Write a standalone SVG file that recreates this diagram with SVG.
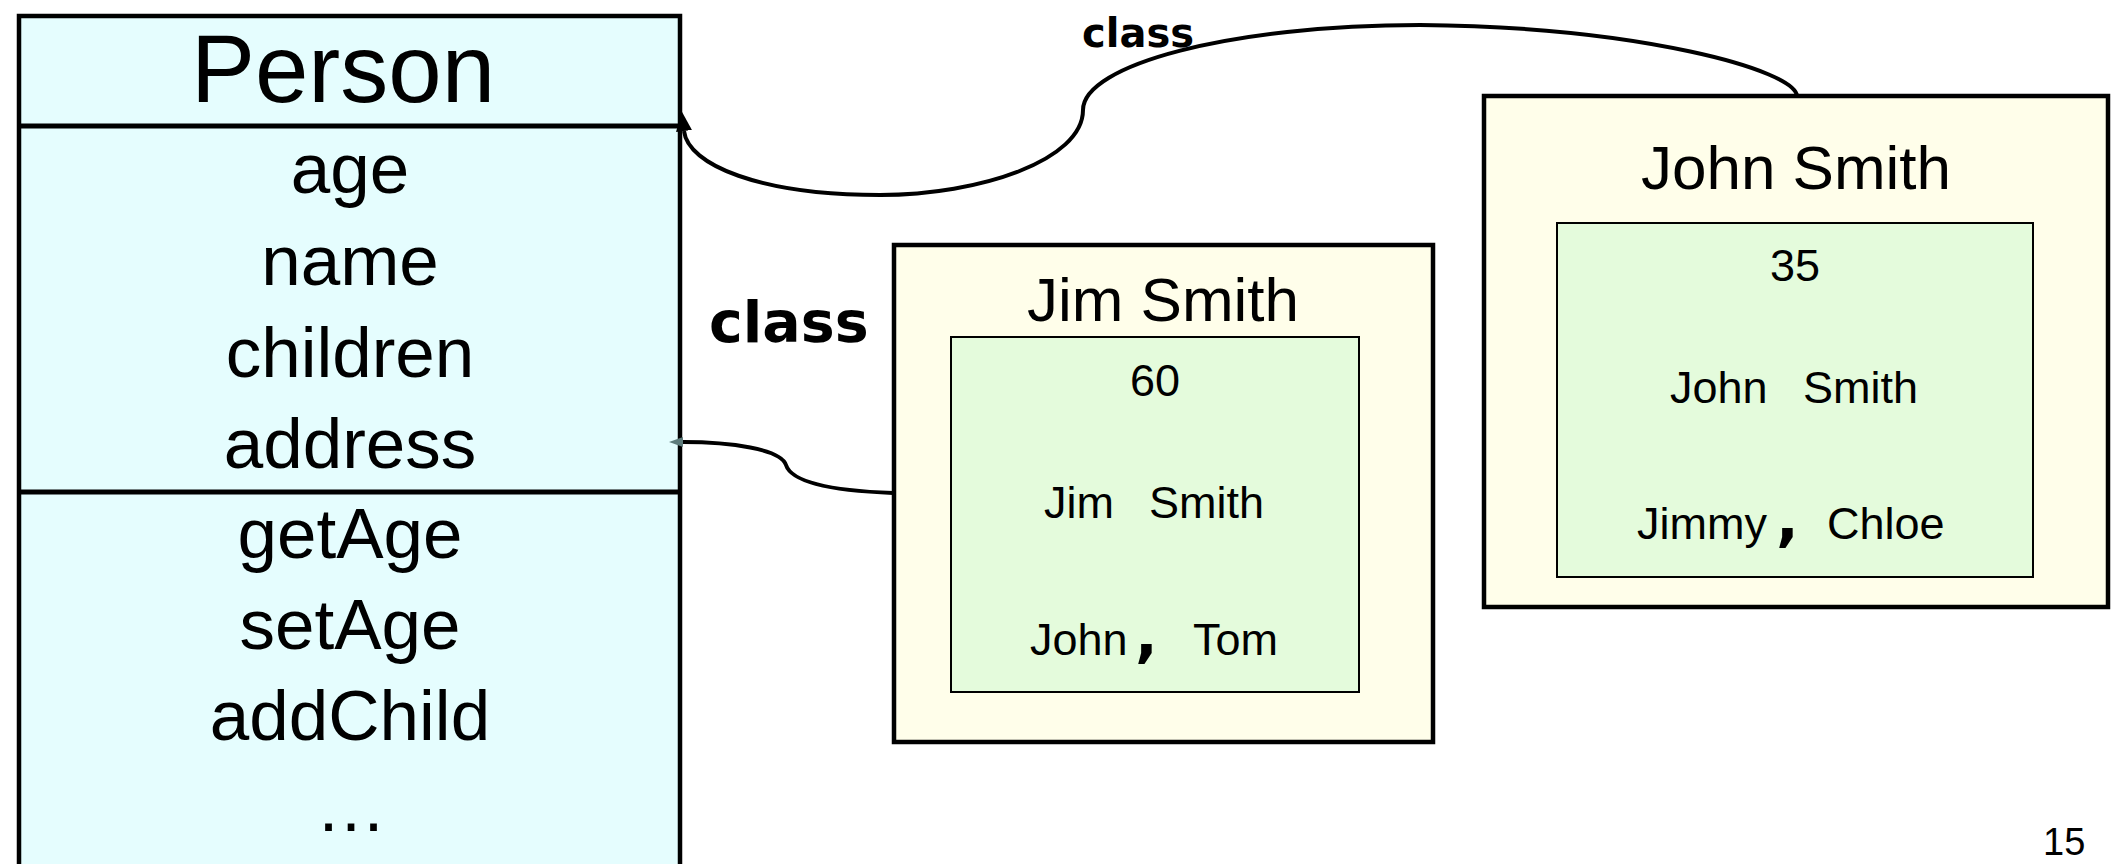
<svg xmlns="http://www.w3.org/2000/svg" width="2124" height="864" viewBox="0 0 2124 864">
  <style>
    .sans { font-family: "Liberation Sans", Arial, sans-serif; fill: #000; }
    .bold { font-family: "DejaVu Sans", "Liberation Sans", sans-serif; font-weight: bold; fill: #000; }
    .cls { fill: #e5fdfe; stroke: #000; stroke-width: 4.5; }
    .obj { fill: #fffeea; stroke: #000; stroke-width: 4.5; }
    .fields { fill: #e4fbdc; stroke: #000; stroke-width: 2; }
    .div { stroke: #000; stroke-width: 5; }
    .member { font-size: 71px; text-anchor: middle; }
    .title { font-size: 62px; text-anchor: middle; }
    .val { font-size: 45px; }
    .comma { font-family: "DejaVu Sans", sans-serif; font-weight: bold; font-size: 60px; }
    .link { fill: none; stroke: #000; stroke-width: 4; }
  </style>
  <defs>
    <marker id="headBlack" markerUnits="userSpaceOnUse" viewBox="0 0 20 16" markerWidth="20" markerHeight="16" refX="0" refY="8" orient="auto">
      <path d="M0,0 L20,8 L0,16 Z" fill="#000"/>
    </marker>
    <marker id="headGrey" markerUnits="userSpaceOnUse" viewBox="0 0 14 10" markerWidth="14" markerHeight="10" refX="0" refY="5" orient="auto">
      <path d="M0,0 L14,5 L0,10 Z" fill="#5e7c7c"/>
    </marker>
  </defs>

  <rect width="2124" height="864" fill="#fff"/>

  <!-- class box: Person -->
  <g id="person">
    <rect class="cls" x="19" y="16" width="661" height="900"/>
    <line class="div" x1="19" y1="126" x2="680" y2="126"/>
    <line class="div" x1="19" y1="492" x2="680" y2="492"/>
    <text class="sans" x="343" y="102" font-size="96" text-anchor="middle">Person</text>
    <text class="sans member" x="350" y="193">age</text>
    <text class="sans member" x="350" y="285">name</text>
    <text class="sans member" x="350" y="377">children</text>
    <text class="sans member" x="350" y="468">address</text>
    <text class="sans member" x="350" y="558">getAge</text>
    <text class="sans member" x="350" y="649">setAge</text>
    <text class="sans member" x="350" y="740">addChild</text>
    <text class="sans member" x="351" y="831">…</text>
  </g>

  <!-- instance: Jim Smith -->
  <g id="jim">
    <rect class="obj" x="894" y="245" width="539" height="497"/>
    <rect class="fields" x="951" y="337" width="408" height="355"/>
    <text class="sans title" x="1163" y="321">Jim Smith</text>
    <text class="sans val" x="1155" y="396" text-anchor="middle">60</text>
    <text class="sans val" x="1044" y="518">Jim</text>
    <text class="sans val" x="1149" y="518">Smith</text>
    <text class="sans val" x="1030" y="655">John</text>
    <text class="comma" x="1135" y="655">,</text>
    <text class="sans val" x="1193" y="655">Tom</text>
  </g>

  <!-- instance: John Smith -->
  <g id="john">
    <rect class="obj" x="1484" y="96" width="624" height="511"/>
    <rect class="fields" x="1557" y="223" width="476" height="354"/>
    <text class="sans title" x="1796" y="189">John Smith</text>
    <text class="sans val" x="1795" y="281" text-anchor="middle">35</text>
    <text class="sans val" x="1670" y="403">John</text>
    <text class="sans val" x="1803" y="403">Smith</text>
    <text class="sans val" x="1637" y="539">Jimmy</text>
    <text class="comma" x="1776" y="539">,</text>
    <text class="sans val" x="1827" y="539">Chloe</text>
  </g>

  <!-- "class" references from each instance back to Person -->
  <g id="connectors">
    <path class="link" marker-end="url(#headBlack)" d="M1797,96 C1795,70 1640,27 1420,25 C1230,25 1083,65 1083,110 C1083,160 980,195 880,195 C760,195 688,165 684,131"/>
    <path class="link" marker-end="url(#headGrey)" d="M893,493 C840,491 792,484 786,465 C781,449 730,442 683,442"/>
    <text class="bold" x="1082" y="47" font-size="40">class</text>
    <text class="bold" x="709" y="342" font-size="57">class</text>
  </g>

  <text class="sans" x="2043" y="855" font-size="38">15</text>
</svg>
